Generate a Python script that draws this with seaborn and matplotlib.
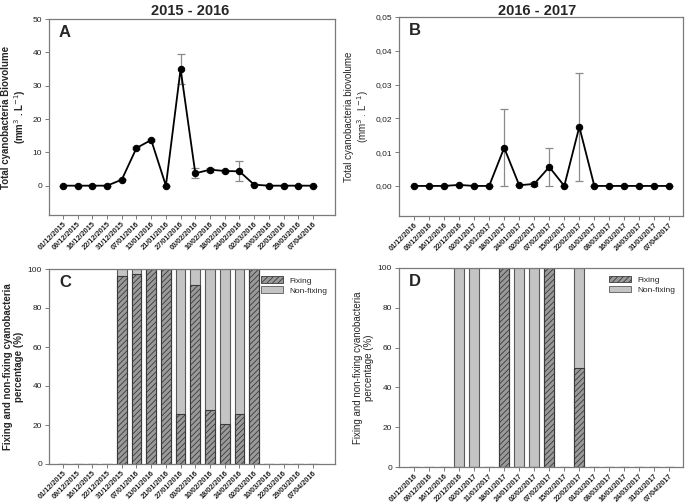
import numpy as np
import pandas as pd
import matplotlib
matplotlib.use("Agg")
import matplotlib.pyplot as plt
import seaborn as sns
from matplotlib.patches import Patch
from matplotlib.ticker import FuncFormatter

dates_a = ["01/12/2015", "09/12/2015", "16/12/2015", "22/12/2015", "31/12/2015",
           "07/01/2016", "13/01/2016", "21/01/2016", "27/01/2016", "03/02/2016",
           "10/02/2016", "18/02/2016", "24/02/2016", "02/03/2016", "10/03/2016",
           "22/03/2016", "29/03/2016", "07/04/2016"]
dates_b = ["01/12/2016", "09/12/2016", "16/12/2016", "22/12/2016", "02/01/2017",
           "11/01/2017", "18/01/2017", "24/01/2017", "02/02/2017", "07/02/2017",
           "15/02/2017", "22/02/2017", "01/03/2017", "08/03/2017", "16/03/2017",
           "24/03/2017", "31/03/2017", "07/04/2017"]

biov_a = [0, 0, 0, 0, 1.8, 11.3, 13.7, 0, 35.0, 3.7, 4.8, 4.4, 4.3, 0.3, 0, 0, 0, 0]
err_a = [0, 0, 0, 0, 0.2, 0.3, 0.3, 0, 4.5, 1.5, 0.6, 0.2, 3.0, 0.1, 0, 0, 0, 0]
biov_b = [0, 0, 0, 0.0003, 0, 0, 0.0113, 0.0002, 0.0006, 0.0056, 0, 0.0175, 0, 0, 0, 0, 0, 0]
err_b = [0, 0, 0, 0, 0, 0, 0.0114, 0, 0.0005, 0.0057, 0, 0.016, 0, 0, 0, 0, 0, 0]

fix_c = [0, 0, 0, 0, 96.5, 97.5, 100, 100, 25.5, 92, 27.5, 20.5, 25.5, 100, 0, 0, 0, 0]
nonfix_c = [0, 0, 0, 0, 3.5, 2.5, 0, 0, 74.5, 8, 72.5, 79.5, 74.5, 0, 0, 0, 0, 0]
fix_d = [0, 0, 0, 0, 0, 0, 100, 0, 0, 100, 0, 50, 0, 0, 0, 0, 0, 0]
nonfix_d = [0, 0, 0, 100, 100, 0, 0, 100, 100, 0, 0, 50, 0, 0, 0, 0, 0, 0]

sns.set_style("ticks")
plt.rcParams["font.family"] = ["Liberation Sans", "DejaVu Sans"]
plt.rcParams["hatch.linewidth"] = 0.6
plt.rcParams["hatch.color"] = "#3a3a3a"

fig = plt.figure(figsize=(6.85, 5.04), dpi=100)
W, H = 685, 504


def add_ax(left, top, right, bottom):
    return fig.add_axes([left / W, 1 - bottom / H, (right - left) / W, (bottom - top) / H])


ax_a = add_ax(49, 19, 335, 215)
ax_b = add_ax(399, 17, 683, 216)
ax_c = add_ax(49, 269, 335, 464)
ax_d = add_ax(399, 268, 683, 467)

GREY = "#7a7a7a"


def style_axis(ax, dates, xlim):
    for s in ax.spines.values():
        s.set_color(GREY)
        s.set_linewidth(0.9)
    ax.set_xticks(range(len(dates)))
    ax.set_xticklabels(dates, rotation=45, ha="right", rotation_mode="anchor",
                       fontsize=5.3, fontweight="bold", color="#222222")
    ax.tick_params(axis="x", length=3, width=0.7, color=GREY, pad=1)
    ax.tick_params(axis="y", length=3, width=0.7, color=GREY, labelsize=6,
                   labelcolor="#222222", pad=2)
    ax.set_xlim(*xlim)
    ax.set_xlabel("")


def set_label(ax, text, bold):
    ax.set_ylabel(text, fontsize=7, fontweight="bold" if bold else "normal",
                  labelpad=3, linespacing=1.1)


def line_panel(ax, dates, vals, errs, ylim, yticks, ylabel, bold, fmt=None):
    df = pd.DataFrame({"x": np.arange(len(dates)), "y": vals})
    ax.errorbar(df["x"], df["y"], yerr=errs, fmt="none", ecolor="#8a8a8a",
                elinewidth=0.9, capsize=3, capthick=0.9, zorder=1)
    sns.lineplot(data=df, x="x", y="y", ax=ax, color="black", linewidth=1.3,
                 marker="o", markersize=4.6, markeredgecolor="black", zorder=3)
    ax.set_ylim(*ylim)
    ax.set_yticks(yticks)
    if fmt:
        ax.yaxis.set_major_formatter(FuncFormatter(fmt))
    set_label(ax, ylabel, bold)


def bar_panel(ax, dates, fix, nonfix, ylabel, bold):
    total = [f + n for f, n in zip(fix, nonfix)]
    df = pd.DataFrame({"date": dates, "total": total, "fix": fix})
    sns.barplot(data=df, x="date", y="total", ax=ax, color="#c4c4c4", saturation=1,
                width=0.66, edgecolor="#5a5a5a", linewidth=0.8, order=dates)
    sns.barplot(data=df, x="date", y="fix", ax=ax, color="#9a9a9a", saturation=1,
                width=0.66, edgecolor="#3a3a3a", linewidth=0.8, hatch="//////", order=dates)
    ax.set_ylim(0, 100)
    ax.set_yticks([0, 20, 40, 60, 80, 100])
    set_label(ax, ylabel, bold)
    handles = [Patch(facecolor="#9a9a9a", edgecolor="#3a3a3a", hatch="//////", linewidth=0.6),
               Patch(facecolor="#c4c4c4", edgecolor="#5a5a5a", linewidth=0.6)]
    ax.legend(handles, ["Fixing", "Non-fixing"], loc="upper right", frameon=False,
              fontsize=6, handlelength=2.6, handleheight=0.9, borderaxespad=0.5,
              labelspacing=0.2)


line_panel(ax_a, dates_a, biov_a, err_a, (-8.8, 50), [0, 10, 20, 30, 40, 50],
           "Total cyanobacteria Biovolume\n(mm$^{3}$ . L$^{-1}$)", True)
style_axis(ax_a, dates_a, (-0.95, 18.5))

comma = lambda v, p: f"{v:.2f}".replace(".", ",")
line_panel(ax_b, dates_b, biov_b, err_b, (-0.0089, 0.05),
           [0, 0.01, 0.02, 0.03, 0.04, 0.05],
           "Total cyanobacteria biovolume\n(mm$^{3}$ . L$^{-1}$)", False, comma)
style_axis(ax_b, dates_b, (-1.0, 17.9))

bar_panel(ax_c, dates_a, fix_c, nonfix_c,
          "Fixing and non-fixing cyanobacteria\npercentage (%)", True)
style_axis(ax_c, dates_a, (-0.95, 18.5))

bar_panel(ax_d, dates_b, fix_d, nonfix_d,
          "Fixing and non-fixing cyanobacteria\npercentage (%)", False)
style_axis(ax_d, dates_b, (-1.0, 17.9))

for ax, lab in zip([ax_a, ax_b, ax_c, ax_d], "ABCD"):
    ax.text(0.035, 0.97, lab, transform=ax.transAxes, fontsize=12,
            fontweight="bold", va="top", ha="left")

fig.text(190 / W, 1 - 11 / H, "2015 - 2016", fontsize=10.5, fontweight="bold",
         ha="center", va="center")
fig.text(537 / W, 1 - 11 / H, "2016 - 2017", fontsize=10.5, fontweight="bold",
         ha="center", va="center")

fig.savefig("out.png", dpi=100, facecolor="white")
